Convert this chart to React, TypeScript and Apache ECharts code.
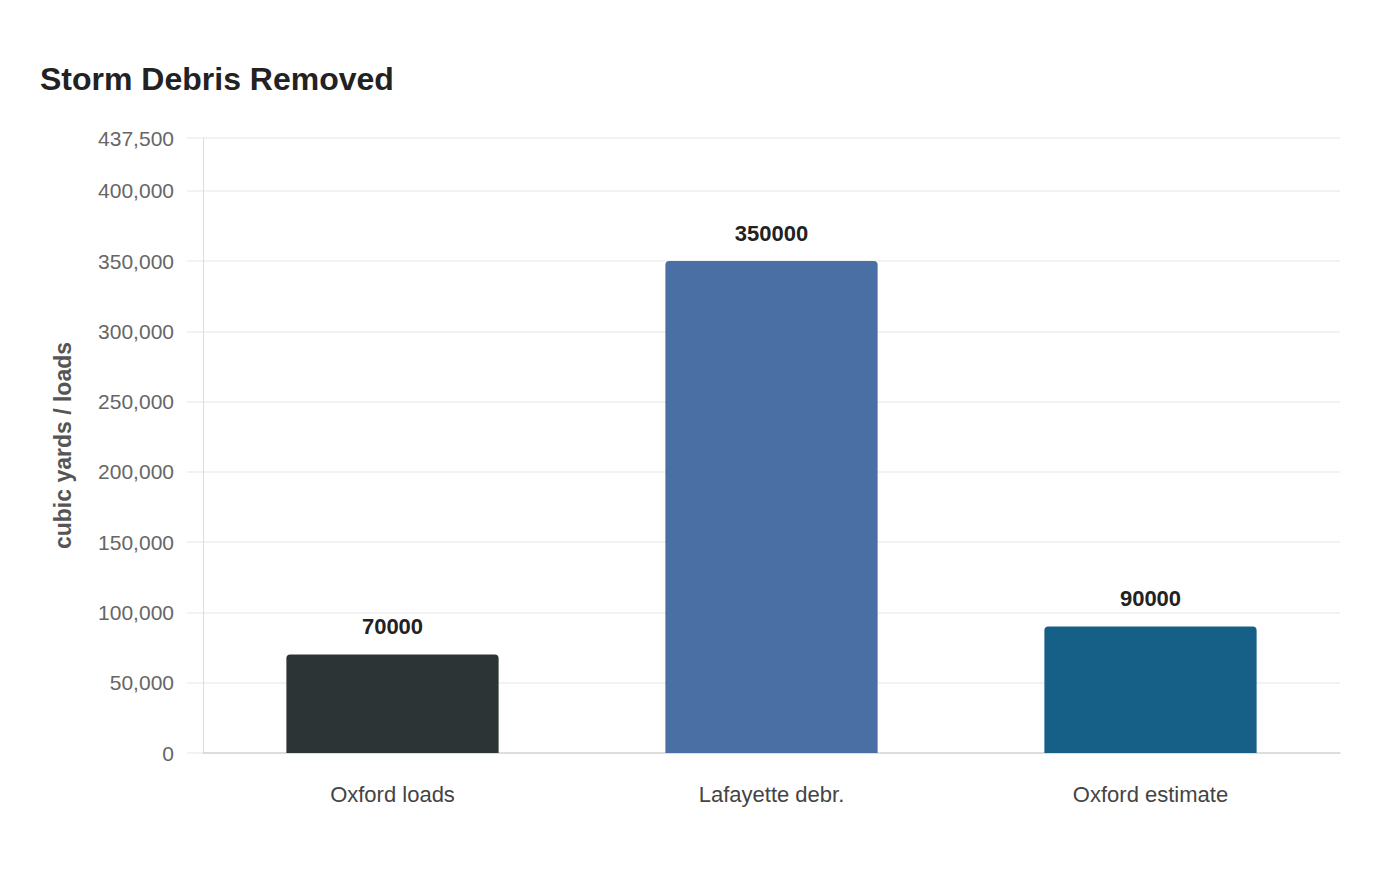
import React, { useEffect, useRef } from "react";
import * as echarts from "echarts";

const categories = ["Oxford loads", "Lafayette debr.", "Oxford estimate"];
const values = [70000, 350000, 90000];
const barColors = ["#2d3436", "#4a6fa5", "#166088"];
const chartTitle = "Storm Debris Removed";
const yAxisName = "cubic yards / loads";

const FONT = "'Liberation Sans', Arial, Helvetica, sans-serif";

export default function App() {
  const ref = useRef<HTMLDivElement>(null);
  useEffect(() => {
    if (!ref.current) return;
    const chart = echarts.init(ref.current, undefined, { renderer: "svg" });
    chart.setOption({
      animation: false,
      backgroundColor: "#ffffff",
      textStyle: { fontFamily: FONT },
      title: {
        text: chartTitle,
        left: 35,
        top: 58,
        textStyle: { fontFamily: FONT, fontSize: 32, fontWeight: "bold", color: "#222222" },
      },
      grid: { left: 203, right: 60, top: 138, bottom: 127, containLabel: false },
      xAxis: {
        type: "category",
        data: categories,
        axisLine: { show: true, lineStyle: { color: "#d6d6d6", width: 1.5 } },
        axisTick: { show: false },
        axisLabel: { color: "#444444", fontSize: 22, margin: 30, fontFamily: FONT },
      },
      yAxis: {
        type: "value",
        min: 0,
        max: 437500,
        interval: 50000,
        name: yAxisName,
        nameLocation: "middle",
        nameGap: 129,
        nameTextStyle: { color: "#555555", fontSize: 23, fontWeight: "bold", fontFamily: FONT },
        axisLine: { show: true, lineStyle: { color: "#dddddd", width: 1 } },
        axisTick: { show: true, length: 16, lineStyle: { color: "#eeeeee", width: 1.5 } },
        axisLabel: {
          color: "#666666",
          fontSize: 21,
          margin: 29,
          fontFamily: FONT,
          formatter: (v: number) => v.toLocaleString("en-US"),
        },
        splitLine: { show: true, lineStyle: { color: "#eeeeee", width: 1.5 } },
      },
      series: [
        {
          type: "bar",
          barWidth: "56%",
          data: values.map((v, i) => ({
            value: v,
            itemStyle: { color: barColors[i] },
          })),
          itemStyle: { borderRadius: [4, 4, 0, 0] },
          label: {
            show: true,
            position: "top",
            distance: 17,
            color: "#222222",
            fontSize: 22,
            fontWeight: "bold",
            fontFamily: FONT,
          },
        },
      ],
    });
    return () => chart.dispose();
  }, []);
  return (
    <div
      ref={ref}
      style={{ position: "absolute", left: 0, top: 0, width: 1400, height: 880 }}
    />
  );
}
